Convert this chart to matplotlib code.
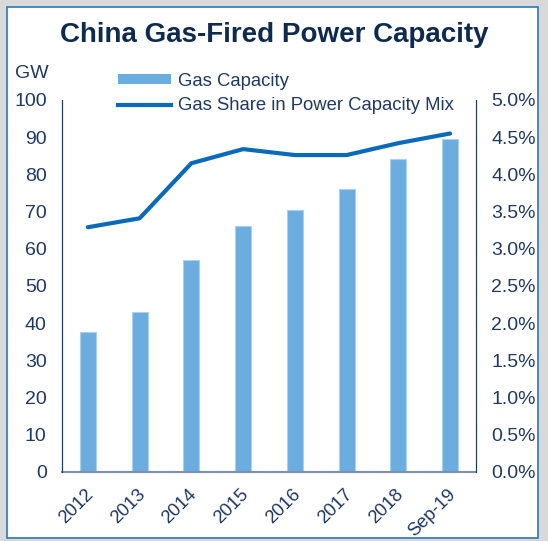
import matplotlib
matplotlib.use("Agg")
import matplotlib.pyplot as plt
from matplotlib.patches import Rectangle
from matplotlib.lines import Line2D
from matplotlib.patches import Patch
from matplotlib.transforms import ScaledTranslation

categories = ["2012", "2013", "2014", "2015", "2016", "2017", "2018", "Sep-19"]
gas_capacity = [37.7, 42.9, 57.1, 66.0, 70.4, 76.0, 84.1, 89.4]
gas_share = [3.29, 3.41, 4.15, 4.34, 4.26, 4.26, 4.42, 4.55]
left_ticks = [0, 10, 20, 30, 40, 50, 60, 70, 80, 90, 100]
right_ticks = [0.0, 0.5, 1.0, 1.5, 2.0, 2.5, 3.0, 3.5, 4.0, 4.5, 5.0]

plt.rcParams['font.family'] = ['Liberation Sans', 'DejaVu Sans']
navy = "#1f3864"
title_c = "#0e2a4f"
bar_c = "#6cade0"
line_c = "#0b6ab8"

W, H = 548, 541
fig = plt.figure(figsize=(W/100, H/100), dpi=100)
fig.patch.set_facecolor("#d9d9d9")
fig.patches.append(Rectangle((7/W, 1-538/H), (538-7)/W, (538-7)/H, transform=fig.transFigure,
                             facecolor="white", edgecolor="#2e75b6", linewidth=1.2, zorder=-5))

ax = fig.add_axes([62/W, 1-472/H, (476-62)/W, (472-100)/H])
ax.set_facecolor("none")
x = list(range(len(categories)))
ax.bar(x, gas_capacity, width=0.31, color=bar_c, edgecolor="#a9d0ef", linewidth=0.8, zorder=2)
ax.set_xlim(-0.5, len(categories) - 0.5)
ax.set_ylim(0, 100)
ax.set_yticks(left_ticks)
ax.set_yticklabels([str(t) for t in left_ticks])
ax.set_xticks(x)
ax.set_xticklabels(categories, rotation=45, ha='right', va='top', rotation_mode='anchor')
ax.tick_params(axis='y', length=0, pad=11, labelsize=14, labelcolor=navy)
ax.tick_params(axis='x', length=0, pad=10, labelsize=13.3, labelcolor=navy)
shift = ScaledTranslation(-3/100, 0, fig.dpi_scale_trans)
for lbl in ax.get_xticklabels():
    lbl.set_transform(lbl.get_transform() + shift)
ax.spines['top'].set_visible(False)
ax.spines['left'].set_color(navy)
ax.spines['right'].set_color(navy)
ax.spines['bottom'].set_color("#7f8fa9")
ax.spines['bottom'].set_linewidth(1.5)

ax2 = ax.twinx()
ax2.plot(x, gas_share, color=line_c, linewidth=3, solid_capstyle='round', zorder=3)
ax2.set_ylim(0, 5)
ax2.set_yticks(right_ticks)
ax2.set_yticklabels([f"{t:.1f}%" for t in right_ticks])
ax2.tick_params(axis='y', length=0, pad=11, labelsize=14, labelcolor=navy)
ax2.spines['top'].set_visible(False)
ax2.spines['left'].set_color(navy)
ax2.spines['right'].set_color(navy)
ax2.spines['bottom'].set_visible(False)

fig.text(0.5, 1-35/H, "China Gas-Fired Power Capacity", ha='center', va='center',
         fontsize=20, fontweight='bold', color=title_c)
fig.text(32/W, 1-74/H, "GW", ha='center', va='center', fontsize=14, color=navy)

handles = [Patch(facecolor=bar_c, edgecolor='none'),
           Line2D([0], [0], color=line_c, linewidth=3)]
leg = fig.legend(handles, ["Gas Capacity", "Gas Share in Power Capacity Mix"],
                 loc='upper left', bbox_to_anchor=(105/W, 1-60/H), frameon=False,
                 fontsize=13.3, handlelength=2.85, handleheight=0.45, handletextpad=0.38,
                 labelspacing=0.4, borderpad=0.2)
for t in leg.get_texts():
    t.set_color(navy)

fig.savefig("out.png", dpi=100, facecolor=fig.get_facecolor())
